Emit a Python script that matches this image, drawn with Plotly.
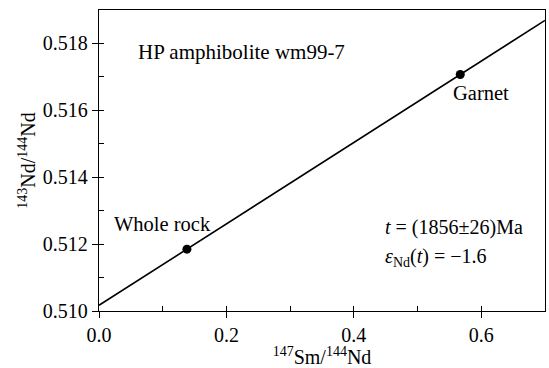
import plotly.graph_objects as go

# Data
sample_names = ["Whole rock", "Garnet"]
sm_nd = [0.138, 0.567]
nd_nd = [0.51185, 0.51707]
isochron_x = [0.0, 0.7]
isochron_y = [0.51017, 0.51869]

FONT = "'Liberation Serif', 'Times New Roman', Times, serif"

fig = go.Figure()
fig.add_trace(go.Scatter(x=isochron_x, y=isochron_y, mode="lines",
                         line=dict(color="black", width=1.6), showlegend=False,
                         hoverinfo="skip"))
fig.add_trace(go.Scatter(x=sm_nd, y=nd_nd, mode="markers",
                         marker=dict(color="black", size=9), showlegend=False,
                         text=sample_names))
# invisible trace for overlay axes (inside ticks)
fig.add_trace(go.Scatter(x=[0.0], y=[0.510], xaxis="x2", yaxis="y2",
                         mode="markers", marker=dict(opacity=0), showlegend=False,
                         hoverinfo="skip"))

axis_common = dict(showgrid=False, zeroline=False, showline=True, linecolor="black",
                   linewidth=1.3, mirror=True, ticks="outside", ticklen=6,
                   tickwidth=1.3, tickcolor="black", automargin=False,
                   tickfont=dict(family=FONT, size=20, color="black"))

fig.update_layout(
    width=549, height=368,
    margin=dict(l=99, r=4, t=10, b=57),
    plot_bgcolor="white", paper_bgcolor="white",
    font=dict(family=FONT, color="black"),
    xaxis=dict(range=[0, 0.7], dtick=0.2, tick0=0, tickformat=".1f",
               title=dict(text="<sup>147</sup>Sm/<sup>144</sup>Nd",
                          font=dict(family=FONT, size=20), standoff=2),
               **axis_common),
    yaxis=dict(range=[0.510, 0.519], dtick=0.002, tick0=0.510, tickformat=".3f",
               title=dict(text="<sup>143</sup>Nd/<sup>144</sup>Nd",
                          font=dict(family=FONT, size=20), standoff=1),
               **axis_common),
    xaxis2=dict(overlaying="x", range=[0, 0.7], dtick=0.1, tick0=0,
                ticks="inside", ticklen=5, tickwidth=1.3, tickcolor="black",
                showticklabels=False, showgrid=False, zeroline=False,
                showline=False, automargin=False),
    yaxis2=dict(overlaying="y", range=[0.510, 0.519], dtick=0.001, tick0=0.510,
                ticks="inside", ticklen=5, tickwidth=1.3, tickcolor="black",
                showticklabels=False, showgrid=False, zeroline=False,
                showline=False, automargin=False),
)

annotations = [
    (0.058, 0.51773, "HP amphibolite wm99-7", 21),
    (0.020, 0.51260, "Whole rock", 20.5),
    (0.553, 0.51651, "Garnet", 20.5),
    (0.445, 0.51250, "<i>t</i> = (1856±26)Ma", 20),
    (0.445, 0.51160, "<i>ε</i><sub>Nd</sub>(<i>t</i>) = −1.6", 20),
]
for x, y, t, s in annotations:
    fig.add_annotation(x=x, y=y, text=t, showarrow=False, xanchor="left",
                       yanchor="middle",
                       font=dict(family=FONT, size=s, color="black"))

fig.write_html("out.html", config={"displayModeBar": False},
               post_script="document.body.style.margin='0';document.body.style.overflow='hidden';")
